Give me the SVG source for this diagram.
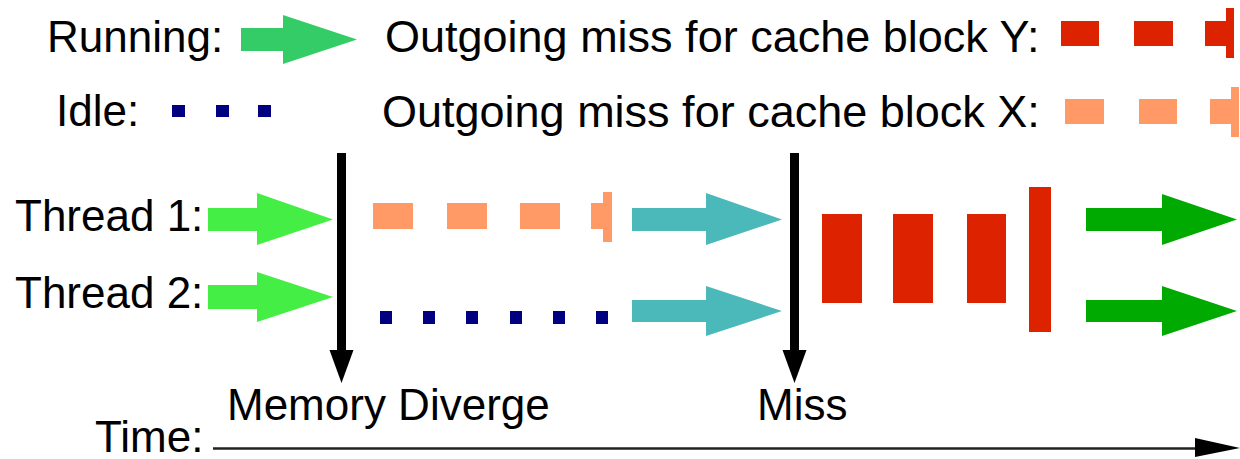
<svg xmlns="http://www.w3.org/2000/svg" width="1240" height="459" viewBox="0 0 1240 459">
  <style>
    text { font-family: "Liberation Sans", Arial, sans-serif; font-size: 44px; fill: #000; }
    .legend { font-size: 45px; }
    .run { fill: #33cc66; }
    .thr { fill: #44ee44; }
    .teal { fill: #4bb9b9; }
    .dkgreen { fill: #00aa00; }
    .red { fill: #dd2200; }
    .orange { fill: #ff9966; }
    .idle { fill: #000080; }
    .evt { stroke: #000; stroke-width: 9; fill: none; }
    .axis { stroke: #222; stroke-width: 2.5; fill: none; }
  </style>
  <defs>
    <!-- head drawn along +x; orient="auto" turns it with the line -->
    <marker id="evtHead" markerUnits="userSpaceOnUse" markerWidth="33" markerHeight="24" refX="0" refY="12" orient="auto" viewBox="0 0 33 24" overflow="visible">
      <path d="M0,0 L33,12 L0,24 Z" fill="#000"/>
    </marker>
  </defs>

  <!-- legend -->
  <g id="legend-running">
    <text x="47" y="52">Running:</text>
    <polygon class="run" points="241,28 283,28 283,15 357,39.5 283,64 283,51 241,51"/>
  </g>
  <g id="legend-idle">
    <text x="56" y="126">Idle:</text>
    <rect class="idle" x="172" y="105" width="13" height="12"/>
    <rect class="idle" x="216" y="105" width="13" height="12"/>
    <rect class="idle" x="258" y="105" width="13" height="12"/>
  </g>
  <g id="legend-miss-y">
    <text class="legend" x="385" y="52">Outgoing miss for cache block Y:</text>
    <rect class="red" x="1061" y="21" width="38" height="25"/>
    <rect class="red" x="1134" y="21" width="39" height="25"/>
    <rect class="red" x="1205" y="21" width="22" height="25"/>
    <rect class="red" x="1226" y="8" width="8" height="50"/>
  </g>
  <g id="legend-miss-x">
    <text class="legend" x="382" y="127">Outgoing miss for cache block X:</text>
    <rect class="orange" x="1065" y="99" width="39" height="25"/>
    <rect class="orange" x="1139" y="99" width="38" height="25"/>
    <rect class="orange" x="1210" y="99" width="22" height="25"/>
    <rect class="orange" x="1231" y="87" width="8" height="50"/>
  </g>

  <!-- thread 1 -->
  <g id="thread1">
    <text x="15" y="231">Thread 1:</text>
    <polygon class="thr" points="208,208 257,208 257,193 333,219.5 257,245 257,231 208,231"/>
    <rect class="orange" x="373" y="203" width="40" height="26"/>
    <rect class="orange" x="447" y="203" width="40" height="26"/>
    <rect class="orange" x="520" y="203" width="40" height="26"/>
    <rect class="orange" x="591" y="203" width="13" height="26"/>
    <rect class="orange" x="603" y="192" width="9" height="50"/>
    <polygon class="teal" points="632,208 706,208 706,193 782,219.5 706,245 706,231 632,231"/>
    <polygon class="dkgreen" points="1086,208 1162,208 1162,194 1237,219.5 1162,245 1162,231 1086,231"/>
  </g>

  <!-- thread 2 -->
  <g id="thread2">
    <text x="15" y="308">Thread 2:</text>
    <polygon class="thr" points="208,285 257,285 257,272 333,297 257,322 257,309 208,309"/>
    <rect class="idle" x="380" y="311" width="12" height="13"/>
    <rect class="idle" x="423" y="311" width="12" height="13"/>
    <rect class="idle" x="466" y="311" width="12" height="13"/>
    <rect class="idle" x="510" y="311" width="12" height="13"/>
    <rect class="idle" x="553" y="311" width="12" height="13"/>
    <rect class="idle" x="596" y="311" width="12" height="13"/>
    <polygon class="teal" points="632,300 706,300 706,286 782,311 706,336 706,322 632,322"/>
    <polygon class="dkgreen" points="1086,300 1162,300 1162,286 1237,311 1162,336 1162,322 1086,322"/>
  </g>

  <!-- shared miss on block Y -->
  <g id="miss-block-y">
    <rect class="red" x="822" y="214" width="40" height="89"/>
    <rect class="red" x="893" y="214" width="40" height="89"/>
    <rect class="red" x="967" y="214" width="39" height="89"/>
    <rect class="red" x="1029" y="187" width="22" height="145"/>
  </g>

  <!-- event labels -->
  <g id="event-diverge">
    <text x="227" y="420">Memory Diverge</text>
  </g>
  <g id="event-miss">
    <text x="757" y="420">Miss</text>
  </g>
  <g id="time-label">
    <text x="95" y="452">Time:</text>
  </g>

  <!-- connectors: event markers and time axis -->
  <g id="connectors">
    <line class="evt" x1="341.5" y1="153" x2="341.5" y2="350" marker-end="url(#evtHead)"/>
    <line class="evt" x1="794.5" y1="153" x2="794.5" y2="350" marker-end="url(#evtHead)"/>
    <line class="axis" x1="213" y1="448.5" x2="1200" y2="448.5"/>
    <polygon points="1195,438 1240,448 1195,457" fill="#000"/>
  </g>
</svg>
